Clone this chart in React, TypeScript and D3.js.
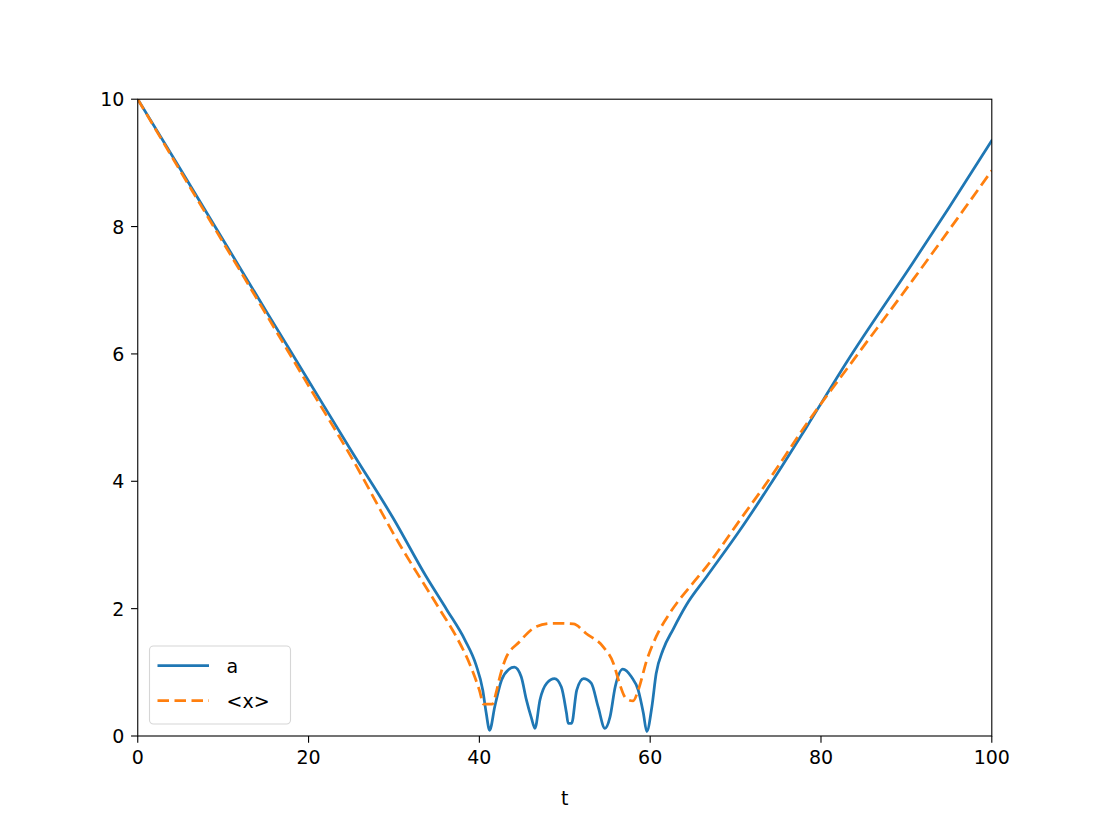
import React from "react";
import * as d3 from "d3";

const tA = [0, 5, 10, 15, 20, 25, 30, 33.7, 36.2, 38.3, 39.6, 40.4, 40.8, 41.2, 41.8, 42.6, 43.4, 44.1, 44.9, 45.5, 46.1, 46.5, 47.1, 47.9, 48.8, 49.6, 50.2, 50.4, 50.8, 51.4, 52.2, 53.1, 53.9, 54.7, 55.3, 55.9, 56.8, 57.8, 58.6, 59.2, 59.6, 60.2, 60.7, 61.5, 62.7, 64.2, 66.6, 70.5, 74.4, 78.3, 83, 90.8, 95, 100];
const aVals = [10, 8.9, 7.79, 6.68, 5.58, 4.48, 3.4, 2.52, 1.98, 1.51, 1.12, 0.72, 0.36, 0.09, 0.46, 0.88, 1.04, 1.08, 0.93, 0.57, 0.28, 0.12, 0.57, 0.83, 0.9, 0.77, 0.36, 0.2, 0.2, 0.72, 0.9, 0.83, 0.46, 0.12, 0.3, 0.77, 1.05, 0.93, 0.72, 0.36, 0.07, 0.46, 0.98, 1.35, 1.68, 2.05, 2.5, 3.23, 4.02, 4.85, 5.87, 7.44, 8.3, 9.35];

const tX = [0, 5, 10, 15, 20, 25, 30.7, 35.4, 37.3, 38.9, 40.0, 40.5, 41.5, 42.0, 42.4, 43.0, 44.7, 46.7, 48.6, 51.0, 52.5, 54.5, 55.7, 56.4, 57.0, 57.4, 58.0, 58.6, 59.6, 60.7, 62.3, 65.0, 66.6, 70.5, 74.4, 78.3, 83, 90.8, 100];
const xVals = [10, 8.87, 7.75, 6.63, 5.5, 4.38, 3.0, 1.98, 1.56, 1.12, 0.72, 0.5, 0.5, 0.7, 0.93, 1.19, 1.48, 1.72, 1.77, 1.76, 1.61, 1.4, 1.14, 0.83, 0.62, 0.57, 0.55, 0.72, 1.19, 1.56, 1.93, 2.4, 2.66, 3.39, 4.12, 4.9, 5.76, 7.17, 8.88];

const xTicks = [0, 20, 40, 60, 80, 100];
const yTicks = [0, 2, 4, 6, 8, 10];
const seriesNames = ["a", "<x>"];

const W = 1102, H = 827;
const L = 137.75, R = 991.8, T = 99.2, B = 736;
const FONT = "DejaVu Sans, sans-serif";
const FS = 19;

export default function App() {
  const x = d3.scaleLinear().domain([0, 100]).range([L, R]);
  const y = d3.scaleLinear().domain([0, 10]).range([B, T]);
  const line = d3.line<[number, number]>().x(d => x(d[0])).y(d => y(d[1])).curve(d3.curveMonotoneX);
  const pathA = line(tA.map((t, i) => [t, aVals[i]]) as [number, number][]) || "";
  const pathX = line(tX.map((t, i) => [t, xVals[i]]) as [number, number][]) || "";
  const lw = 2.75;
  const dash = "11.5,5.5";
  return (
    <svg width={W} height={H} style={{ position: "absolute", left: 0, top: 0, background: "#fff" }} fontFamily={FONT}>
      <rect x={0} y={0} width={W} height={H} fill="#fff" />
      <defs>
        <clipPath id="clip"><rect x={L} y={T} width={R - L} height={B - T} /></clipPath>
      </defs>
      <g clipPath="url(#clip)">
        <path d={pathA} fill="none" stroke="#1f77b4" strokeWidth={lw} strokeLinejoin="round" strokeLinecap="square" />
        <path d={pathX} fill="none" stroke="#ff7f0e" strokeWidth={lw} strokeDasharray={dash} />
      </g>
      <rect x={L} y={T} width={R - L} height={B - T} fill="none" stroke="#000" strokeWidth={1.1} />
      {xTicks.map(t => (
        <g key={"x" + t}>
          <line x1={x(t)} x2={x(t)} y1={B} y2={B + 6.7} stroke="#000" strokeWidth={1.1} />
          <text x={x(t)} y={B + 6.7 + 6.7} textAnchor="middle" dominantBaseline="hanging" fontSize={FS}>{t}</text>
        </g>
      ))}
      {yTicks.map(t => (
        <g key={"y" + t}>
          <line x1={L - 6.7} x2={L} y1={y(t)} y2={y(t)} stroke="#000" strokeWidth={1.1} />
          <text x={L - 6.7 - 6.7} y={y(t)} textAnchor="end" dominantBaseline="central" fontSize={FS}>{t}</text>
        </g>
      ))}
      <text x={(L + R) / 2} y={805} textAnchor="middle" fontSize={FS}>t</text>
      <g>
        <rect x={149.5} y={646} width={141} height={78} rx={4} ry={4} fill="#fff" fillOpacity={0.8} stroke="#d6d6d6" strokeWidth={1.1} />
        <line x1={157.5} x2={209} y1={665.7} y2={665.7} stroke="#1f77b4" strokeWidth={lw} />
        <text x={226.5} y={665.7} dominantBaseline="central" fontSize={FS}>{seriesNames[0]}</text>
        <line x1={157.5} x2={209} y1={700.7} y2={700.7} stroke="#ff7f0e" strokeWidth={lw} strokeDasharray={dash} />
        <text x={226.5} y={700.7} dominantBaseline="central" fontSize={FS}>{seriesNames[1]}</text>
      </g>
    </svg>
  );
}
